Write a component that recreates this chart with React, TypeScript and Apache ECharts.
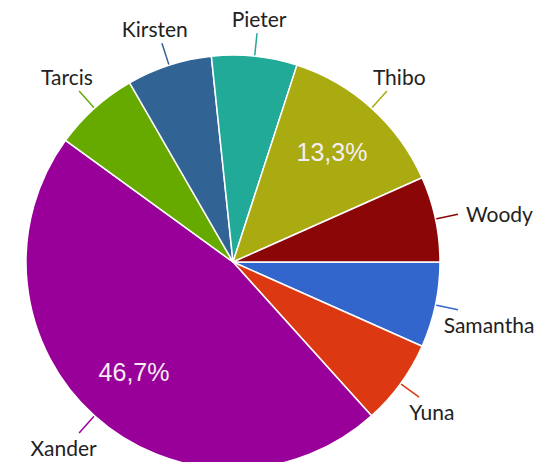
import React, { useEffect, useRef } from "react";
import * as echarts from "echarts";

const names = ["Samantha", "Yuna", "Xander", "Tarcis", "Kirsten", "Pieter", "Thibo", "Woody"];
const values = [1, 1, 7, 1, 1, 1, 2, 1];
const colors = ["#3366CC", "#DC3912", "#990099", "#66AA00", "#316395", "#22AA99", "#AAAA11", "#8B0707"];

export default function App() {
  const ref = useRef<HTMLDivElement>(null);
  useEffect(() => {
    if (!ref.current) return;
    const chart = echarts.init(ref.current, null, { renderer: "svg" });
    const data = names.map((n, i) => ({ name: n, value: values[i], itemStyle: { color: colors[i] } }));
    const center = [233, 262];
    const R = 207;
    const clear = R + 6;
    const hitsPie = (cx: number, cy: number, w: number, h: number) => {
      const nx = Math.max(cx - w / 2, Math.min(center[0], cx + w / 2));
      const ny = Math.max(cy - h / 2, Math.min(center[1], cy + h / 2));
      return Math.hypot(nx - center[0], ny - center[1]) < clear;
    };
    chart.setOption({
      animation: false,
      backgroundColor: "#ffffff",
      series: [
        {
          type: "pie",
          center,
          radius: [0, R],
          startAngle: 0,
          clockwise: true,
          avoidLabelOverlap: false,
          data,
          itemStyle: { borderColor: "#ffffff", borderWidth: 1.5 },
          label: {
            show: true,
            position: "outside",
            formatter: "{b}",
            color: "#222222",
            fontFamily: "Lato",
            fontSize: 21,
          },
          labelLine: {
            show: true,
            length: 23,
            length2: 0,
            smooth: false,
            lineStyle: { width: 1.5 },
          },
          labelLayout: (p: any) => {
            const pts = p.labelLinePoints;
            if (!pts || pts.length < 2) return {};
            const a = pts[0];
            const b = pts[1];
            let dx = b[0] - a[0];
            let dy = b[1] - a[1];
            const L = Math.hypot(dx, dy) || 1;
            dx /= L;
            dy /= L;
            const w = p.labelRect.width;
            const h = p.labelRect.height;
            const vertical = dy > 0.15 || dy < -0.3;
            let x: number;
            let y: number;
            if (vertical) {
              x = b[0] + dx * w * 0.35;
              y = b[1] + Math.sign(dy) * (h / 2 + 4);
              let guard = 0;
              while (hitsPie(x, y, w, h) && guard++ < 60) y += Math.sign(dy);
            } else {
              x = b[0] + Math.sign(dx) * (w / 2 + 8);
              y = b[1] + dy * 5;
            }
            return {
              x,
              y,
              align: "center",
              verticalAlign: "middle",
              labelLinePoints: [a, b],
            };
          },
        },
        {
          type: "pie",
          center,
          radius: [R * 0.4, R],
          startAngle: 0,
          clockwise: true,
          silent: true,
          data: names.map((n, i) => ({ name: n, value: values[i] })),
          itemStyle: { color: "rgba(0,0,0,0)" },
          label: {
            show: true,
            position: "inside",
            formatter: (p: any) => (p.percent > 10 ? p.percent.toFixed(1).replace(".", ",") + "%" : ""),
            color: "#f4eef4",
            fontFamily: "Liberation Sans",
            fontSize: 25,
          },
          labelLine: { show: false },
        },
      ],
    });
    return () => chart.dispose();
  }, []);
  return <div ref={ref} style={{ position: "absolute", left: 0, top: 0, width: 558, height: 462 }} />;
}
